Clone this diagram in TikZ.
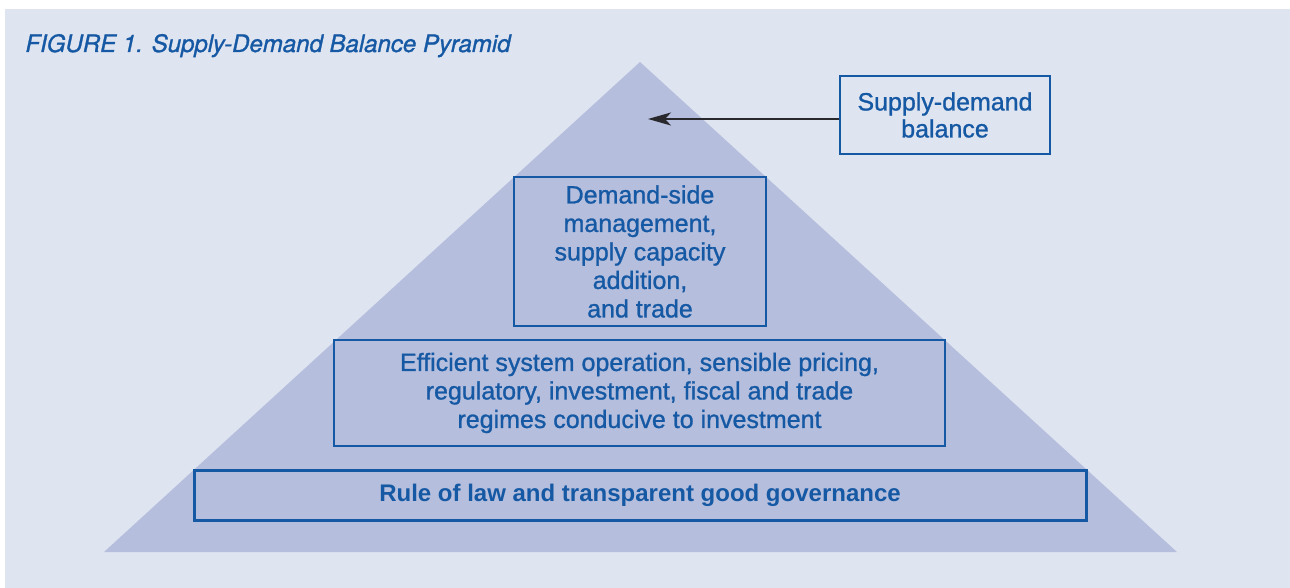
\documentclass[tikz,border=0pt]{standalone}
\usepackage{fontspec}
\setmainfont{Liberation Sans}
\newfontfamily\titlefont[FakeBold=1.2]{TeX Gyre Heros}
\newfontfamily\medfont[FakeBold=1.0]{Liberation Sans}
\usetikzlibrary{arrows.meta}
\definecolor{bgblue}{HTML}{DFE4F1}
\definecolor{pyrblue}{HTML}{B5BEDD}
\definecolor{inkblue}{HTML}{1558A3}
\tikzset{
  box/.style={draw=inkblue, line width=2.8pt, text=inkblue, align=center,
    inner sep=0pt, font=\medfont\fontsize{25}{28.5}\selectfont},
  conn/.style={draw={rgb,255:red,40;green,40;blue,45}, line width=1.5pt,
    -{Stealth[length=23pt,width=13pt,inset=6pt]}}
}
\begin{document}
\begin{tikzpicture}[x=1pt,y=-1pt]
\useasboundingbox (0,0) rectangle (1290,588);
\fill[white] (0,0) rectangle (1290,588);
\fill[bgblue] (5,9) rectangle (1290,588);
\fill[pyrblue] (640,62) -- (1177,552) -- (104,552) -- cycle;
\node[anchor=base west, text=inkblue, font=\titlefont\itshape\fontsize{24}{28}\selectfont] (title) at (22,52) {FIGURE 1. Supply-Demand Balance Pyramid};
\node[box, minimum width=210pt, minimum height=78pt, font=\medfont\fontsize{25}{27}\selectfont] (sd) at (945,115) {Supply-demand\\balance};
\node[box, minimum width=252pt, minimum height=149pt] (dsm) at (640,251.5) {Demand-side\\management,\\supply capacity\\addition,\\ and trade};
\node[box, minimum width=611pt, minimum height=106pt] (eff) at (639.5,393) {Efficient system operation, sensible pricing,\\regulatory, investment, fiscal and trade\\ regimes conducive to investment};
\node[box, line width=3pt, minimum width=892pt, minimum height=50pt, font=\bfseries\fontsize{24}{28}\selectfont] (rule) at (640,495) {Rule of law and transparent good governance};
\coordinate (tip) at (648,119);
\draw[conn] (sd.west |- tip) -- (tip);
\end{tikzpicture}
\end{document}
